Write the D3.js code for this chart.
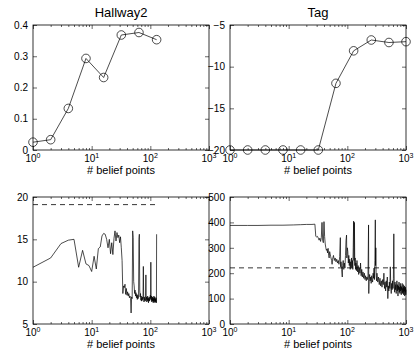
<!DOCTYPE html>
<html lang="en">
<head>
<meta charset="UTF-8">
<title>belief points</title>
<script src="https://cdn.jsdelivr.net/npm/d3@7"></script>
<style>
    body { margin: 0; background: #fff; }
    svg { font-family: "Liberation Sans", Arial, sans-serif; }
    .axis path { display: none; }
    .axis line { stroke: #000; stroke-width: 0.6; }
    .axis text { font-size: 10px; fill: #000; font-family: "Liberation Sans", Arial, sans-serif; }
</style>
</head>
<body>
<script>
    // x ticks (decades) shared by all four panels
    let xDecades = [1, 10, 100, 1000];

    // top row: reward vs number of belief points
    let hallwayCounts = [1, 2, 4, 8, 16, 32, 64, 128];
    let hallwayReward = [0.025, 0.033, 0.133, 0.293, 0.232, 0.368, 0.376, 0.353];
    let hallwayYTicks = [0, 0.1, 0.2, 0.3, 0.4];

    let tagCounts = [1, 2, 4, 8, 16, 32, 64, 128, 256, 512, 1000];
    let tagReward = [-20, -20, -20, -20, -20, -20, -12.0, -8.1, -6.8, -7.1, -7.0];
    let tagYTicks = [-20, -15, -10, -5];

    // bottom row: traces with reference (dashed) levels
    let hallwayTraceN = d3.range(1, 129);
    let hallwayTrace = [
        11.7, 12.8, 14.5, 14.9, 15.0, 11.7, 13.7, 12.1, 11.9, 11.2,
        13.0, 11.5, 13.9, 14.1, 15.4, 15.7, 15.6, 15.0, 14.0, 15.0,
        13.3, 14.6, 13.2, 15.1, 16.0, 14.8, 15.8, 15.2, 15.5, 14.6,
        15.3, 14.0, 12.5, 8.6, 9.5, 9.3, 9.7, 8.5, 9.2, 8.4,
        8.8, 8.3, 8.6, 8.1, 8.3, 8.0, 6.3, 8.2, 8.0, 16.0,
        15.2, 10.0, 9.5, 8.6, 9.0, 8.3, 8.7, 8.1, 8.5, 7.9,
        8.4, 8.0, 8.3, 15.0, 15.6, 9.0, 8.2, 8.6, 7.8, 8.3,
        7.7, 8.1, 7.8, 8.2, 8.0, 11.8, 8.0, 7.6, 8.2, 7.8,
        8.0, 7.7, 8.4, 10.8, 7.9, 8.2, 7.6, 8.0, 7.8, 8.3,
        7.7, 8.1, 7.5, 8.0, 7.8, 8.2, 7.7, 8.0, 7.9, 8.4,
        8.0, 12.3, 8.1, 7.8, 8.3, 7.6, 8.0, 7.7, 8.2, 7.8,
        8.1, 7.5, 8.0, 7.7, 8.3, 7.6, 8.0, 7.8, 8.2, 7.5,
        8.0, 7.7, 7.9, 7.6, 8.1, 7.6, 7.5, 15.6
    ];
    let hallwayRefLevel = 19.1;
    let hallwayTraceYTicks = [5, 10, 15, 20];

    let tagTraceN = [
        1, 2, 3, 5, 8, 12, 16, 20, 25, 28,
        29, 30, 31, 32, 33, 34, 35, 36, 37, 38,
        39, 40, 41, 42, 43, 44, 45, 46, 47, 48,
        49, 50, 52, 54, 55, 56, 58, 60, 62, 64,
        66, 68, 70, 72, 74, 76, 77, 78, 80, 82,
        83, 85, 87, 89, 91, 93, 95, 97, 98, 100,
        102, 104, 106, 108, 110, 112, 114, 116, 118, 120,
        122, 124, 126, 128, 130, 132, 134, 136, 138, 140,
        143, 146, 150, 153, 156, 160, 164, 168, 172, 176,
        180, 185, 190, 195, 200, 205, 210, 215, 220, 225,
        230, 232, 235, 240, 245, 250, 255, 260, 265, 270,
        275, 280, 285, 290, 295, 300, 303, 306, 310, 315,
        320, 330, 340, 350, 360, 370, 380, 390, 400, 410,
        420, 430, 440, 450, 460, 470, 480, 490, 500, 510,
        520, 530, 540, 550, 560, 570, 580, 590, 600, 610,
        620, 630, 640, 650, 660, 670, 680, 690, 700, 710,
        720, 730, 740, 750, 760, 770, 780, 790, 800, 810,
        820, 830, 840, 850, 860, 870, 880, 890, 900, 910,
        920, 930, 940, 950, 960, 970, 980, 990, 1000
    ];
    let tagTrace = [
        388, 388, 388, 389, 389, 390, 391, 392, 392, 393,
        345, 343, 345, 338, 330, 338, 325, 340, 400, 330,
        320, 403, 345, 315, 300, 290, 295, 280, 298, 270,
        260, 285, 265, 250, 235, 255, 270, 250, 260, 245,
        255, 240, 250, 235, 265, 340, 225, 245, 215, 185,
        230, 250, 215, 240, 220, 270, 330, 350, 260, 300,
        285, 240, 270, 230, 255, 215, 245, 225, 260, 220,
        250, 215, 300, 405, 250, 400, 230, 260, 215, 240,
        210, 250, 205, 230, 195, 220, 200, 240, 190, 215,
        185, 205, 180, 200, 175, 190, 170, 185, 175, 190,
        390, 120, 175, 195, 170, 185, 160, 190, 175, 165,
        200, 180, 220, 175, 250, 410, 230, 300, 190, 170,
        200, 165, 185, 155, 180, 150, 170, 145, 175, 155,
        200, 140, 165, 130, 170, 145, 185, 100, 150, 130,
        165, 140, 225, 150, 120, 160, 135, 170, 140, 180,
        355, 150, 125, 165, 135, 155, 120, 150, 170, 130,
        155, 110, 150, 135, 165, 125, 145, 120, 160, 130,
        150, 115, 145, 135, 160, 120, 140, 125, 155, 115,
        145, 130, 150, 110, 140, 125, 145, 115, 135
    ];
    let tagRefLevel = 221;
    let tagTraceYTicks = [0, 100, 200, 300, 400, 500];

    let width = 418;
    let height = 360;

    let svg = d3.select("body")
        .append("svg")
        .attr("width", width)
        .attr("height", height);

    function makePanel(box, yDomain, yTicks) {
        let x = d3.scaleLog().domain([1, 1000]).range([box.x0, box.x1]);
        let y = d3.scaleLinear().domain(yDomain).range([box.y1, box.y0]);
        let minor = x.ticks().filter(d => xDecades.indexOf(d) < 0);

        // minor + major ticks, all pointing inwards (matlab box style)
        svg.append("g").attr("class", "axis")
            .attr("transform", "translate(0," + box.y1 + ")")
            .call(d3.axisBottom(x).tickValues(minor).tickSize(-2).tickFormat(""));
        svg.append("g").attr("class", "axis")
            .attr("transform", "translate(0," + box.y0 + ")")
            .call(d3.axisTop(x).tickValues(minor).tickSize(-2).tickFormat(""));
        svg.append("g").attr("class", "axis")
            .attr("transform", "translate(0," + box.y1 + ")")
            .call(d3.axisBottom(x).tickValues(xDecades).tickSize(-4).tickFormat(""));
        svg.append("g").attr("class", "axis")
            .attr("transform", "translate(0," + box.y0 + ")")
            .call(d3.axisTop(x).tickValues(xDecades).tickSize(-4).tickFormat(""));
        svg.append("g").attr("class", "axis")
            .attr("transform", "translate(" + box.x0 + ",0)")
            .call(d3.axisLeft(y).tickValues(yTicks).tickSize(-4).tickPadding(5)
                .tickFormat(d3.format("~g")));
        svg.append("g").attr("class", "axis")
            .attr("transform", "translate(" + box.x1 + ",0)")
            .call(d3.axisRight(y).tickValues(yTicks).tickSize(-4).tickFormat(""));

        svg.append("rect")
            .attr("x", box.x0).attr("y", box.y0)
            .attr("width", box.x1 - box.x0).attr("height", box.y1 - box.y0)
            .attr("fill", "none").attr("stroke", "#000").attr("stroke-width", 0.8);

        // 10^n labels
        let lab = svg.append("g").selectAll("text")
            .data(xDecades).enter()
            .append("text")
            .attr("x", d => x(d))
            .attr("y", box.y1 + 12)
            .attr("text-anchor", "middle")
            .attr("font-size", "10px");
        lab.append("tspan").text("10");
        lab.append("tspan")
            .attr("dy", -4)
            .attr("font-size", "7px")
            .text(d => Math.round(Math.log10(d)));

        svg.append("text")
            .text("# belief points")
            .attr("x", (box.x0 + box.x1) / 2)
            .attr("y", box.y1 + 24)
            .attr("text-anchor", "middle")
            .attr("font-size", "11px");

        return {x: x, y: y};
    }

    function addTitle(box, title) {
        svg.append("text")
            .text(title)
            .attr("x", (box.x0 + box.x1) / 2)
            .attr("y", 17)
            .attr("text-anchor", "middle")
            .attr("font-size", "13px");
    }

    function drawLine(p, xs, ys, dash) {
        let line = d3.line()
            .x(d => p.x(d[0]))
            .y(d => p.y(d[1]));
        return svg.append("path")
            .attr("d", line(d3.zip(xs, ys)))
            .attr("fill", "none")
            .attr("stroke", "#000")
            .attr("stroke-width", dash ? 0.8 : 0.7)
            .attr("stroke-dasharray", dash ? "5,4" : null);
    }

    function drawCircles(p, xs, ys) {
        svg.append("g").selectAll("circle")
            .data(d3.zip(xs, ys)).enter()
            .append("circle")
            .attr("cx", d => p.x(d[0]))
            .attr("cy", d => p.y(d[1]))
            .attr("r", 4.3)
            .attr("fill", "none")
            .attr("stroke", "#000")
            .attr("stroke-width", 0.7);
    }

    let boxTL = {x0: 33, x1: 209, y0: 25, y1: 150};
    let boxTR = {x0: 230, x1: 406, y0: 25, y1: 150};
    let boxBL = {x0: 33, x1: 209, y0: 197, y1: 324};
    let boxBR = {x0: 230, x1: 406, y0: 197, y1: 324};

    let p1 = makePanel(boxTL, [0, 0.4], hallwayYTicks);
    addTitle(boxTL, "Hallway2");
    drawLine(p1, hallwayCounts, hallwayReward);
    drawCircles(p1, hallwayCounts, hallwayReward);

    let p2 = makePanel(boxTR, [-20, -5], tagYTicks);
    addTitle(boxTR, "Tag");
    drawLine(p2, tagCounts, tagReward);
    drawCircles(p2, tagCounts, tagReward);

    let p3 = makePanel(boxBL, [5, 20], hallwayTraceYTicks);
    drawLine(p3, hallwayTraceN, hallwayTrace);
    let hx = d3.extent(hallwayTraceN);
    drawLine(p3, hx, [hallwayRefLevel, hallwayRefLevel], true);

    let p4 = makePanel(boxBR, [0, 500], tagTraceYTicks);
    drawLine(p4, tagTraceN, tagTrace);
    let tx = d3.extent(tagTraceN);
    drawLine(p4, tx, [tagRefLevel, tagRefLevel], true);
</script>
</body>
</html>
